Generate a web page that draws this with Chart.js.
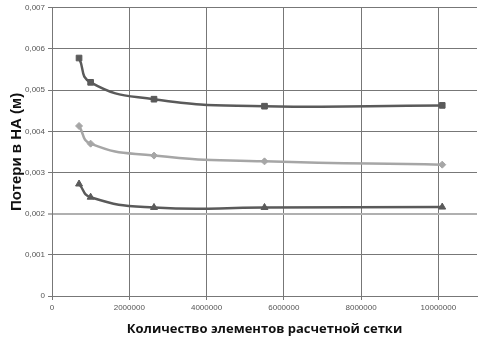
<!DOCTYPE html>
<html>
<head>
<meta charset="utf-8">
<script src="https://cdn.jsdelivr.net/npm/chart.js@4"></script>
<style>
  html, body { margin: 0; padding: 0; background: #fff; }
  #wrap { width: 487px; height: 337px; }
</style>
</head>
<body>
<div id="wrap"><canvas id="chart" width="487" height="337"></canvas></div>
<script>
// Number of mesh elements
const elements = [700000, 1000000, 2640000, 5500000, 10100000];
// Head losses, m
const lossSquare = [0.00578, 0.00519, 0.00478, 0.00461, 0.00463];
const lossDiamond = [0.00413, 0.00370, 0.00341, 0.00327, 0.00319];
const lossTriangle = [0.00272, 0.00240, 0.00215, 0.00215, 0.00216];

const xTicks = [0, 2000000, 4000000, 6000000, 8000000, 10000000];
const yTicks = ['0', '0,001', '0,002', '0,003', '0,004', '0,005', '0,006', '0,007'];

function toPoints(values) {
    return values.map(function (v, i) { return { x: elements[i], y: v }; });
}

function series(values, color, shape, radius) {
    return {
        data: toPoints(values),
        borderColor: color,
        backgroundColor: color,
        borderWidth: 2.5,
        pointStyle: shape,
        pointRadius: radius,
        pointBorderWidth: 1,
        tension: 0.5,
        fill: false
    };
}

new Chart(document.getElementById('chart'), {
    type: 'line',
    data: {
        datasets: [
            series(lossSquare, '#5a5a5a', 'rect', 4),
            series(lossDiamond, '#a6a6a6', 'rectRot', 3.5),
            series(lossTriangle, '#5a5a5a', 'triangle', 4)
        ]
    },
    options: {
        responsive: false,
        animation: false,
        layout: { padding: { top: 5, right: 10, left: 0, bottom: 0 } },
        plugins: { legend: { display: false }, tooltip: { enabled: false } },
        scales: {
            x: {
                type: 'linear',
                min: 0,
                max: 11000000,
                afterFit: function (scale) { scale.height = 41; },
                afterBuildTicks: function (scale) {
                    scale.ticks = xTicks.map(function (v) { return { value: v }; });
                },
                ticks: {
                    color: '#555',
                    font: { family: 'Liberation Sans', size: 8 },
                    padding: 3,
                    maxRotation: 0,
                    callback: function (v) { return String(v); }
                },
                grid: { color: '#777', lineWidth: 1, drawTicks: true, tickLength: 4 },
                border: { color: '#777' },
                title: {
                    display: true,
                    text: 'Количество элементов расчетной сетки',
                    color: '#111',
                    font: { family: 'Open Sans', size: 13, weight: 'bold' },
                    padding: { top: 3, bottom: 0 }
                }
            },
            y: {
                min: 0,
                max: 0.007,
                afterFit: function (scale) { scale.width = 52; },
                afterBuildTicks: function (scale) {
                    scale.ticks = yTicks.map(function (t, i) { return { value: i * 0.001 }; });
                },
                ticks: {
                    color: '#555',
                    font: { family: 'Liberation Sans', size: 8 },
                    padding: 3,
                    callback: function (v, i) { return yTicks[i]; }
                },
                grid: {
                    color: function (ctx) { return ctx.index === 2 ? '#b0b0b0' : '#777'; },
                    lineWidth: function (ctx) { return ctx.index === 2 ? 2 : 1; },
                    tickLength: 4
                },
                border: { color: '#777' },
                title: {
                    display: true,
                    text: 'Потери в НА (м)',
                    color: '#111',
                    font: { family: 'Liberation Sans', size: 15, weight: 'bold' },
                    padding: { top: 8, bottom: 2 }
                }
            }
        }
    }
});
</script>
</body>
</html>
